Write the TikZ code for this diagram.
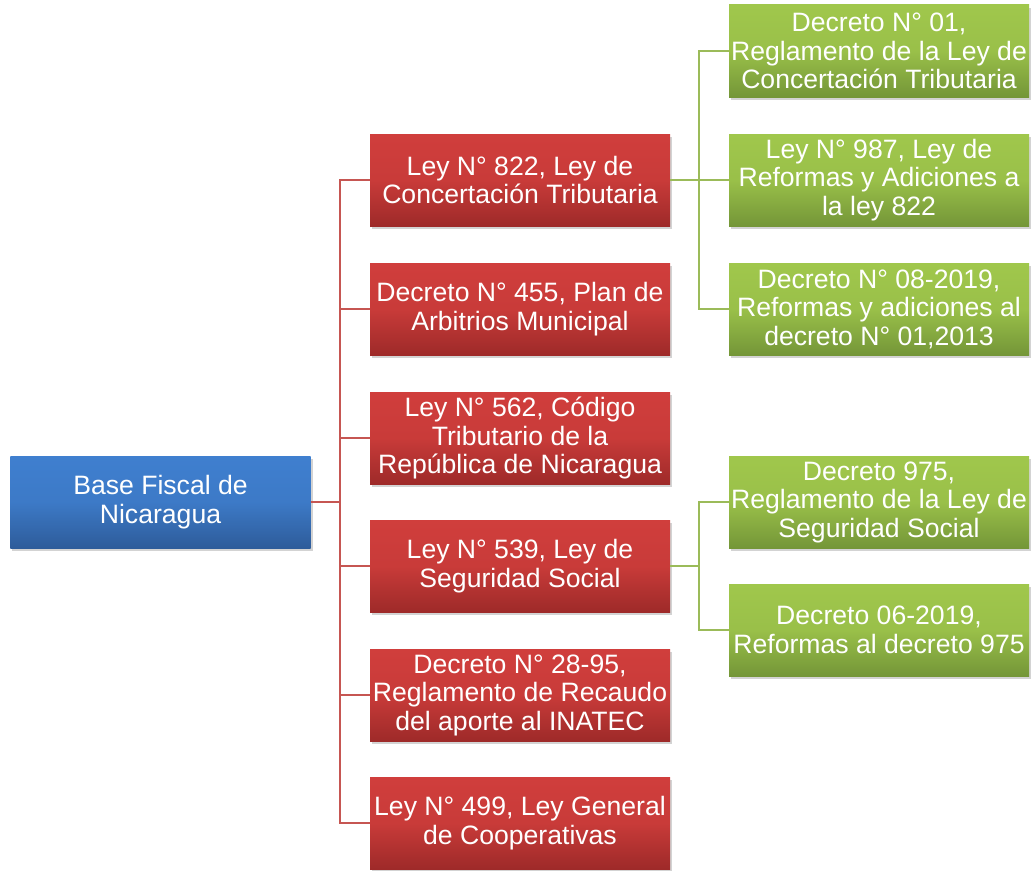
\documentclass[tikz,border=0pt]{standalone}
\usepackage{fontspec}
\setmainfont{Liberation Sans}
\usetikzlibrary{shadows}
\definecolor{bluetop}{HTML}{3F7FCF}
\definecolor{bluebot}{HTML}{2E5C9A}
\definecolor{redtop}{HTML}{D03E3C}
\definecolor{redbot}{HTML}{9E2A29}
\definecolor{greentop}{HTML}{A0C74C}
\definecolor{greenbot}{HTML}{749638}
\definecolor{redline}{HTML}{C65652}
\definecolor{greenline}{HTML}{9BBB59}
\tikzset{
  box/.style={minimum width=300bp, minimum height=92bp, inner sep=0pt, align=center,
    text=white, font=\fontsize{26.6bp}{28.5bp}\selectfont,
    drop shadow={shadow xshift=2bp, shadow yshift=-3bp, opacity=0.35}},
  bluebox/.style={box, top color=bluetop, bottom color=bluebot, middle color=bluetop!85!bluebot},
  redbox/.style={box, top color=redtop, bottom color=redbot, middle color=redtop!85!redbot},
  greenbox/.style={box, top color=greentop, bottom color=greenbot, middle color=greentop!85!greenbot},
  rline/.style={draw=redline, line width=2bp},
  gline/.style={draw=greenline, line width=2bp}
}
\begin{document}
\begin{tikzpicture}[x=1bp,y=-1bp]
\useasboundingbox (0,0) rectangle (1031,871);
\node[bluebox] (base) at (160.5,502) {Base Fiscal de\\Nicaragua};
\node[redbox] (r1) at (520,180) {Ley N° 822, Ley de\\Concertación Tributaria};
\node[redbox] (r2) at (520,309) {Decreto N° 455, Plan de\\Arbitrios Municipal};
\node[redbox] (r3) at (520,438) {Ley N° 562, Código\\Tributario de la\\República de Nicaragua};
\node[redbox] (r4) at (520,566) {Ley N° 539, Ley de\\Seguridad Social};
\node[redbox] (r5) at (520,695) {Decreto N° 28-95,\\Reglamento de Recaudo\\del aporte al INATEC};
\node[redbox] (r6) at (520,823) {Ley N° 499, Ley General\\de Cooperativas};
\node[greenbox] (g1) at (879,51) {Decreto N° 01,\\Reglamento de la Ley de\\Concertación Tributaria};
\node[greenbox] (g2) at (879,180) {Ley N° 987, Ley de\\Reformas y Adiciones a\\la ley 822};
\node[greenbox] (g3) at (879,309) {Decreto N° 08-2019,\\Reformas y adiciones al\\decreto N° 01,2013};
\node[greenbox] (g4) at (879,502) {Decreto 975,\\Reglamento de la Ley de\\Seguridad Social};
\node[greenbox] (g5) at (879,630) {Decreto 06-2019,\\Reformas al decreto 975};
\coordinate (rt) at (340,502);
\coordinate (gt1) at (699,180);
\coordinate (gt2) at (699,566);
\draw[rline] (base.east) -- (rt);
\foreach \n in {r1,r2,r3,r4,r5,r6} { \draw[rline] (rt) |- (\n.west); }
\draw[gline] (r1.east) -- (gt1);
\foreach \n in {g1,g2,g3} { \draw[gline] (gt1) |- (\n.west); }
\draw[gline] (r4.east) -- (gt2);
\foreach \n in {g4,g5} { \draw[gline] (gt2) |- (\n.west); }
\end{tikzpicture}
\end{document}
